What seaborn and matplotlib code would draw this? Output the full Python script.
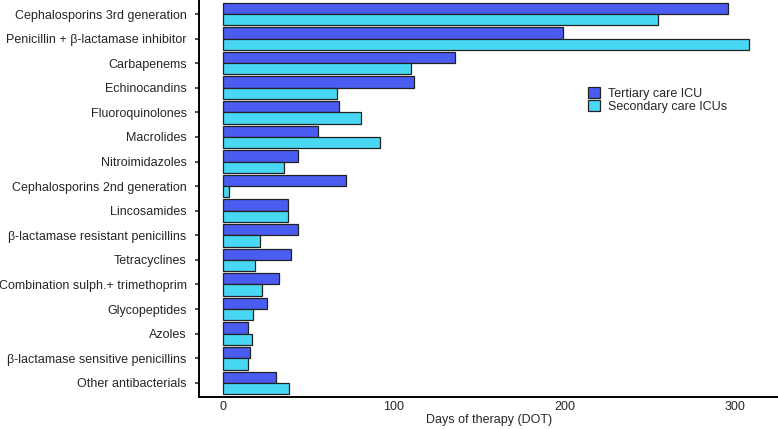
import pandas as pd
import seaborn as sns
import matplotlib.pyplot as plt

#----------------------
# Data
#----------------------

classes = [
    "Cephalosporins 3rd generation",
    "Penicillin + β-lactamase inhibitor",
    "Carbapenems",
    "Echinocandins",
    "Fluoroquinolones",
    "Macrolides",
    "Nitroimidazoles",
    "Cephalosporins 2nd generation",
    "Lincosamides",
    "β-lactamase resistant penicillins",
    "Tetracyclines",
    "Combination sulph.+ trimethoprim",
    "Glycopeptides",
    "Azoles",
    "β-lactamase sensitive penicillins",
    "Other antibacterials",
]
tertiary = [296, 199, 136, 112, 68, 56, 44, 72, 38, 44, 40, 33, 26, 15, 16, 31]
secondary = [255, 308, 110, 67, 81, 92, 36, 4, 38, 22, 19, 23, 18, 17, 15, 39]
groups = ["Tertiary care ICU", "Secondary care ICUs"]
colors = ["#4a5cf2", "#48d8f4"]

df = pd.DataFrame({"Class": classes, groups[0]: tertiary, groups[1]: secondary})
melted = df.melt(id_vars="Class", var_name="Setting", value_name="DOT")

#-----------
# Plot bars
#-----------

sns.set_style("ticks")
plt.rcParams["font.family"] = ["Liberation Sans", "DejaVu Sans"]

fig, ax = plt.subplots(figsize=(7.78, 4.29), dpi=100)
fig.subplots_adjust(left=0.256, right=1.0, top=1.0, bottom=0.075)

sns.barplot(
    data=melted,
    x="DOT",
    y="Class",
    hue="Setting",
    hue_order=groups,
    palette=colors,
    width=0.92,
    edgecolor="#222222",
    linewidth=0.9,
    saturation=1,
    ax=ax,
)

ax.set_xlim(-13.7, 325)
ax.set_ylim(15.57, -0.57)
ax.set_xticks([0, 100, 200, 300])
ax.set_xlabel("Days of therapy (DOT)", fontsize=9, labelpad=1)
ax.set_ylabel("")
ax.tick_params(axis="x", length=0, labelsize=9, pad=3)
ax.tick_params(axis="y", length=3, width=1.2, labelsize=9, pad=6, color="#333333")
sns.despine(ax=ax)
for side in ["left", "bottom"]:
    ax.spines[side].set_linewidth(1.4)
    ax.spines[side].set_color("black")

ax.legend(
    loc="upper left",
    bbox_to_anchor=(0.652, 0.81),
    frameon=False,
    fontsize=9,
    handlelength=1.0,
    handleheight=1.0,
    handletextpad=0.6,
    labelspacing=0.05,
)

plt.savefig("out.png", dpi=100)
